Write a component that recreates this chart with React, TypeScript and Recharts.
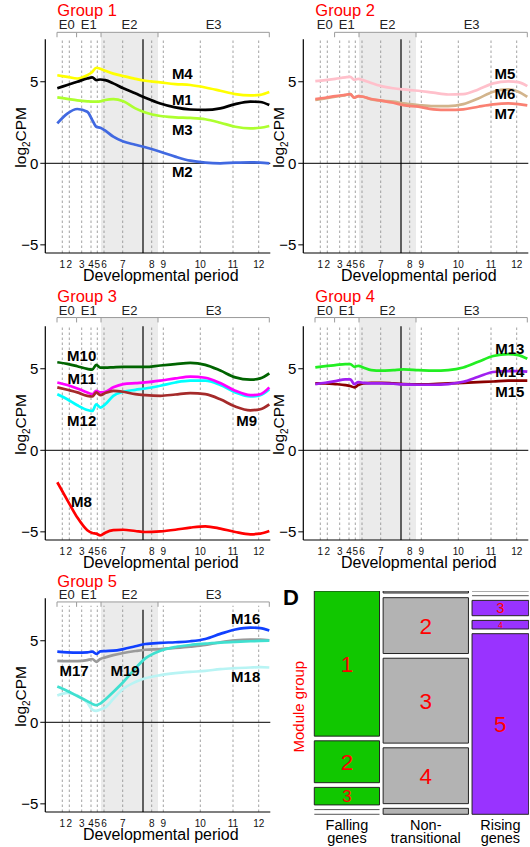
import React from "react";
import {
  LineChart,
  Line,
  XAxis,
  YAxis,
  ReferenceLine,
  ReferenceArea,
  ReferenceDot,
  ComposedChart,
  Scatter,
} from "recharts";

// positions on the (log-scaled) age axis where the module curves are sampled
const agePos = [12, 22, 32, 42, 47, 51, 55, 60, 68, 78, 90, 100, 115, 130, 145, 160, 175, 190, 205, 215, 224];

const periodPos = [17, 24, 36.4, 45.7, 52, 58.7, 77.4, 106.4, 118, 155, 187.7, 213.4];
const periodLabels = ["1", "2", "3", "4", "5", "6", "7", "8", "9", "10", "11", "12"];
const eraNames = ["E0", "E1", "E2", "E3"];
const eraBounds = [11.7, 31.3, 55.7, 112.7, 224];
const birthPos = 97.7;

// group 1
const m4 = [5.4, 5.3, 5.2, 5.4, 5.6, 5.86, 5.8, 5.67, 5.5, 5.35, 5.18, 5.06, 4.96, 4.86, 4.8, 4.65, 4.45, 4.24, 4.16, 4.2, 4.37];
const m1 = [4.6, 4.8, 5.0, 5.2, 5.27, 5.1, 5.14, 5.1, 4.9, 4.6, 4.29, 4.02, 3.67, 3.43, 3.3, 3.27, 3.37, 3.63, 3.78, 3.76, 3.57];
const m3 = [4.04, 3.95, 3.86, 3.8, 3.78, 3.78, 3.8, 3.88, 3.93, 3.8, 3.37, 3.12, 2.9, 2.82, 2.78, 2.7, 2.49, 2.24, 2.14, 2.18, 2.29];
const m2 = [2.45, 3.05, 3.33, 3.16, 2.65, 2.24, 2.18, 2.0, 1.63, 1.33, 1.14, 0.98, 0.71, 0.41, 0.16, 0.04, 0.0, 0.04, 0.06, 0.04, 0.0];
// group 2
const m5 = [5.04, 5.1, 5.18, 5.27, 5.3, 5.12, 5.18, 5.1, 4.92, 4.73, 4.6, 4.53, 4.45, 4.33, 4.22, 4.24, 4.53, 4.9, 5.02, 4.98, 4.73];
const m6 = [3.88, 3.98, 4.08, 4.18, 4.24, 4.02, 4.12, 4.08, 3.92, 3.84, 3.78, 3.67, 3.57, 3.5, 3.5, 3.63, 3.98, 4.39, 4.53, 4.39, 4.08];
const m7 = [3.94, 4.02, 4.12, 4.2, 4.24, 4.02, 4.12, 4.08, 3.94, 3.84, 3.71, 3.57, 3.47, 3.31, 3.27, 3.31, 3.47, 3.61, 3.67, 3.63, 3.55];
// group 3
const m10 = [5.4, 5.3, 5.15, 4.99, 4.95, 5.24, 5.07, 5.07, 5.09, 5.11, 5.11, 5.11, 5.2, 5.28, 5.36, 5.24, 4.89, 4.47, 4.33, 4.41, 4.72];
const m11 = [4.16, 4.0, 3.79, 3.55, 3.44, 3.65, 3.55, 3.59, 3.86, 4.06, 4.12, 4.16, 4.27, 4.41, 4.52, 4.45, 4.12, 3.65, 3.38, 3.44, 3.86];
const m12 = [3.44, 3.13, 2.76, 2.47, 2.41, 2.82, 2.62, 2.82, 3.34, 3.59, 3.71, 3.79, 3.96, 4.16, 4.27, 4.27, 4.0, 3.55, 3.3, 3.38, 3.75];
const m9 = [3.86, 3.71, 3.55, 3.34, 3.3, 3.55, 3.38, 3.51, 3.65, 3.59, 3.44, 3.38, 3.34, 3.42, 3.51, 3.44, 3.13, 2.68, 2.45, 2.52, 2.82];
const m8 = [-1.96, -3.05, -4.12, -4.9, -5.07, -5.11, -5.22, -5.05, -4.9, -4.87, -4.95, -5.01, -4.97, -4.87, -4.74, -4.66, -4.8, -5.01, -5.15, -5.11, -4.95];
// group 4
const m13 = [5.08, 5.16, 5.22, 5.29, 5.29, 5.12, 5.18, 5.08, 4.92, 4.88, 4.92, 4.96, 4.92, 4.88, 4.92, 5.08, 5.43, 5.78, 5.9, 5.84, 5.61];
const m14 = [4.06, 4.14, 4.24, 4.35, 4.35, 4.06, 4.18, 4.14, 4.1, 4.1, 4.08, 4.04, 4.02, 4.02, 4.06, 4.2, 4.51, 4.8, 4.86, 4.86, 4.82];
const m15 = [4.1, 4.1, 4.06, 4.0, 3.94, 3.86, 4.0, 4.1, 4.14, 4.14, 4.1, 4.06, 4.04, 4.06, 4.1, 4.14, 4.18, 4.22, 4.27, 4.27, 4.27];
// group 5
const m16 = [4.33, 4.29, 4.27, 4.29, 4.33, 4.19, 4.35, 4.37, 4.39, 4.49, 4.66, 4.8, 4.87, 4.91, 4.97, 5.11, 5.42, 5.69, 5.81, 5.77, 5.63];
const m17 = [3.77, 3.75, 3.75, 3.81, 3.88, 3.71, 3.88, 3.98, 4.12, 4.25, 4.37, 4.45, 4.49, 4.56, 4.64, 4.74, 4.91, 5.03, 5.07, 5.07, 5.03];
const m18 = [1.65, 1.81, 1.65, 1.2, 0.78, 0.7, 0.78, 0.92, 1.44, 2.06, 2.47, 2.7, 2.89, 3.01, 3.09, 3.15, 3.26, 3.32, 3.36, 3.38, 3.36];
const m19 = [2.19, 1.92, 1.61, 1.3, 1.13, 1.05, 1.15, 1.4, 1.86, 2.47, 3.3, 3.92, 4.39, 4.62, 4.74, 4.82, 4.89, 4.93, 4.97, 4.99, 5.01];

// mosaic (D): gene counts per module group (1..5) in each transition class
const moduleGroups = ["1", "2", "3", "4", "5"];
const classLabels = [["Falling", "genes"], ["Non-", "transitional"], ["Rising", "genes"]];
const fallingCounts = [447, 129, 54, 0, 0];
const nonTransCounts = [8, 225, 342, 225, 24];
const risingCounts = [0, 0, 41, 23, 483];

const FONT = "'Liberation Sans', Arial, Helvetica, sans-serif";
const Y_MIN = -5.5;
const Y_TOP = 9.4;
const AXIS_TOP = 7.6;

const groups = [
  {
    title: "Group 1",
    series: [
      { name: "M4", values: m4, color: "#ffff00" },
      { name: "M3", values: m3, color: "#adff2f" },
      { name: "M2", values: m2, color: "#4169e1" },
      { name: "M1", values: m1, color: "#000000" },
    ],
    labels: [["M4", 137, 5.47], ["M1", 137, 3.92], ["M3", 137, 2.06], ["M2", 137, -0.51]],
  },
  {
    title: "Group 2",
    series: [
      { name: "M5", values: m5, color: "#ffc0cb" },
      { name: "M6", values: m6, color: "#d2b48c" },
      { name: "M7", values: m7, color: "#fa8072" },
    ],
    labels: [["M5", 201.7, 5.51], ["M6", 201.7, 4.29], ["M7", 201.7, 3.04]],
  },
  {
    title: "Group 3",
    series: [
      { name: "M10", values: m10, color: "#006400" },
      { name: "M12", values: m12, color: "#00ffff" },
      { name: "M11", values: m11, color: "#ff00ff" },
      { name: "M9", values: m9, color: "#a52a2a" },
      { name: "M8", values: m8, color: "#ff0000" },
    ],
    labels: [["M10", 36.4, 5.81], ["M11", 36.4, 4.37], ["M12", 36.4, 1.79], ["M9", 201.4, 1.79], ["M8", 36.2, -3.15]],
  },
  {
    title: "Group 4",
    series: [
      { name: "M13", values: m13, color: "#22ee22" },
      { name: "M15", values: m15, color: "#8b0000" },
      { name: "M14", values: m14, color: "#a020f0" },
    ],
    labels: [["M13", 206.5, 6.24], ["M14", 206.5, 4.85], ["M15", 206.5, 3.59]],
  },
  {
    title: "Group 5",
    series: [
      { name: "M17", values: m17, color: "#9a9a9a" },
      { name: "M16", values: m16, color: "#1040ff" },
      { name: "M18", values: m18, color: "#b8f4f4" },
      { name: "M19", values: m19, color: "#40e0d0" },
    ],
    labels: [["M16", 200.4, 6.35], ["M17", 28.7, 3.17], ["M19", 79.7, 3.17], ["M18", 200.4, 2.8]],
  },
];

const boxes = [
  { left: 0, top: 9.7, bracket: 8.03, dashTop: 7.6, birthTop: 7.6, titleY: 16, firstEra: 0 },
  { left: 258, top: 9.7, bracket: 8.03, dashTop: 7.6, birthTop: 7.6, titleY: 16, firstEra: 1 },
  { left: 0, top: 297.2, bracket: 8.14, dashTop: 7.6, birthTop: 7.6, titleY: 301.5, firstEra: 0 },
  { left: 258, top: 297.2, bracket: 8.14, dashTop: 7.6, birthTop: 7.6, titleY: 301.5, firstEra: 0 },
  { left: 0, top: 569.4, bracket: 7.38, dashTop: 7.15, birthTop: 6.9, titleY: 586.7, firstEra: 0 },
];

const YLabel = (props: any) => {
  const vb = props.viewBox || { x: 5.3, y: 0, width: 40, height: 243 };
  const x = vb.x + 21.2;
  const y = vb.y + vb.height * 0.524;
  return (
    <text x={x} y={y} transform={`rotate(-90 ${x} ${y})`} textAnchor="middle" fontFamily={FONT} fontSize={15.5} fill="#000">
      <tspan>log</tspan>
      <tspan dy={4} fontSize={10}>2</tspan>
      <tspan dy={-4}>CPM</tspan>
    </text>
  );
};

const XLabel = (props: any) => {
  const vb = props.viewBox || { x: 45.3, y: 243, width: 225, height: 32 };
  return (
    <text x={vb.x + vb.width / 2 + 3} y={vb.y + 28} textAnchor="middle" fontFamily={FONT} fontSize={16} fill="#000">
      Developmental period
    </text>
  );
};

function GroupPanel({ group, box }: { group: any; box: any }) {
  const data = agePos.map((x, i) => {
    const row: any = { x };
    group.series.forEach((s: any) => (row[s.name] = s.values[i]));
    return row;
  });
  const eras = eraNames.map((name, i) => ({ name, from: eraBounds[i], to: eraBounds[i + 1] }));
  const tickLen = 0.3;
  return (
    <div style={{ position: "absolute", left: box.left, top: box.top }}>
      <LineChart width={272} height={275} data={data} margin={{ top: 0, right: 1.7, bottom: 0, left: 5.3 }}>
        <ReferenceArea
          x1={eraBounds[2]}
          x2={eraBounds[3]}
          y1={Y_MIN}
          y2={box.bracket}
          fill="#ebebeb"
          fillOpacity={1}
          stroke="none"
        />
        {periodPos.map((p) => (
          <ReferenceLine
            key={"d" + p}
            segment={[{ x: p, y: Y_MIN }, { x: p, y: box.dashTop }]}
            stroke="#8a8a8a"
            strokeWidth={0.8}
            strokeDasharray="2.5 2.5"
          />
        ))}
        <ReferenceLine y={0} stroke="#000" strokeWidth={1} />
        <ReferenceLine segment={[{ x: birthPos, y: Y_MIN }, { x: birthPos, y: box.birthTop }]} stroke="#000" strokeWidth={1.2} />
        <ReferenceLine segment={[{ x: 0, y: Y_MIN }, { x: 0, y: AXIS_TOP }]} stroke="#000" strokeWidth={1.2} />
        {eras.slice(box.firstEra).map((e) => (
          <ReferenceLine
            key={"b" + e.name}
            segment={[{ x: e.from, y: box.bracket }, { x: e.to, y: box.bracket }]}
            stroke="#9a9a9a"
            strokeWidth={1}
          />
        ))}
        {eraBounds.slice(box.firstEra).map((b) => (
          <ReferenceLine
            key={"t" + b}
            segment={[{ x: b, y: box.bracket }, { x: b, y: box.bracket - tickLen }]}
            stroke="#9a9a9a"
            strokeWidth={1}
          />
        ))}
        {eras.map((e) => (
          <ReferenceDot
            key={"e" + e.name}
            x={(e.from + e.to) / 2}
            y={box.bracket}
            r={0}
            fill="none"
            stroke="none"
            label={{ value: e.name, position: "top", offset: 3, fontSize: 13, fill: "#222", fontFamily: FONT }}
          />
        ))}
        <XAxis
          dataKey="x"
          type="number"
          domain={[0, 225]}
          ticks={periodPos}
          interval={0}
          tickFormatter={(v: number) => periodLabels[periodPos.indexOf(v)]}
          tickLine={false}
          axisLine={{ stroke: "#000", strokeWidth: 1.2 }}
          tick={{ fontSize: 10, fill: "#111", fontFamily: FONT }}
          height={32}
          label={{ content: XLabel }}
        />
        <YAxis
          type="number"
          domain={[Y_MIN, Y_TOP]}
          ticks={[-5, 0, 5]}
          interval={0}
          allowDataOverflow
          axisLine={false}
          tickLine={{ stroke: "#000" }}
          tickSize={5}
          tickMargin={2}
          tickFormatter={(v: number) => String(v).replace("-", "\u2212")}
          tick={{ fontSize: 15, fill: "#000", fontFamily: FONT }}
          width={40}
          label={{ content: YLabel }}
        />
        {group.series.map((s: any) => (
          <Line
            key={s.name}
            type="monotone"
            dataKey={s.name}
            stroke={s.color}
            strokeWidth={2.7}
            dot={false}
            activeDot={false}
            isAnimationActive={false}
          />
        ))}
        {group.labels.map((l: any) => (
          <ReferenceDot
            key={"l" + l[0]}
            x={l[1]}
            y={l[2]}
            r={0}
            fill="none"
            stroke="none"
            label={{ value: l[0], position: "center", fontSize: 15, fontWeight: 700, fill: "#000", fontFamily: FONT }}
          />
        ))}
      </LineChart>
    </div>
  );
}

const classColors = ["#11c700", "#b3b3b3", "#9933ff"];
const MOSAIC_H = 223.3;

function Mosaic() {
  const cols = [fallingCounts, nonTransCounts, risingCounts];
  const totals = cols.map((c) => c.reduce((a, b) => a + b, 0));
  const grand = totals.reduce((a, b) => a + b, 0);
  const gapX = 0.0168;
  const gapY = 0.021;
  let cx = 0;
  const cells: any[] = [];
  const centers: number[] = [];
  cols.forEach((counts, ci) => {
    const w = ((1 - gapX * (cols.length - 1)) * totals[ci]) / grand;
    let cy = 0;
    counts.forEach((n, gi) => {
      const h = ((1 - gapY * (counts.length - 1)) * n) / totals[ci];
      cells.push({ ci, gi, x1: cx, x2: Math.min(1, cx + w), y1: cy, y2: Math.min(1, cy + h), n });
      cy += h + gapY;
    });
    centers.push(cx + w / 2);
    cx += w + gapX;
  });

  const ClassTick = (props: any) => {
    const idx = centers.findIndex((c) => Math.abs(c - props.payload.value) < 1e-6);
    const lines = classLabels[idx] || [];
    return (
      <text x={props.x} y={props.y} textAnchor="middle" fontFamily={FONT} fontSize={14.5} fill="#000">
        <tspan x={props.x} dy={15.7}>{lines[0]}</tspan>
        <tspan x={props.x} dy={13.4}>{lines[1]}</tspan>
      </text>
    );
  };

  const GroupLabel = (props: any) => {
    const vb = props.viewBox || { x: 0, y: 0, width: 34.3, height: MOSAIC_H };
    const x = vb.x + 24.5;
    const y = vb.y + vb.height / 2 + 4;
    return (
      <text x={x} y={y} transform={`rotate(-90 ${x} ${y})`} textAnchor="middle" fontFamily={FONT} fontSize={15} fill="#ff0000">
        Module group
      </text>
    );
  };

  // column centres (mid height) feed an invisible scatter so both axes have data
  const anchor = centers.map((c) => ({ c, m: 0.5 }));

  return (
    <div style={{ position: "absolute", left: 280, top: 591 }}>
      <ComposedChart width={248.7} height={256} data={anchor} margin={{ top: 0, right: 0, bottom: 0, left: 0 }}>
        <XAxis
          dataKey="c"
          type="number"
          domain={[0, 1]}
          allowDataOverflow
          ticks={centers}
          interval={0}
          tick={ClassTick}
          tickLine={false}
          axisLine={false}
          tickSize={0}
          tickMargin={0}
          height={32.7}
        />
        <YAxis
          dataKey="m"
          type="number"
          domain={[0, 1]}
          allowDataOverflow
          reversed
          tick={false}
          axisLine={false}
          tickLine={false}
          width={34.3}
          label={{ content: GroupLabel }}
        />
        <Scatter dataKey="m" fill="none" stroke="none" isAnimationActive={false} shape={() => <g />} />
        {cells.map((c) => {
          const hPx = (c.y2 - c.y1) * MOSAIC_H;
          return c.n === 0 ? (
            <ReferenceLine
              key={`z${c.ci}-${c.gi}`}
              segment={[{ x: c.x1, y: c.y1 }, { x: c.x2, y: c.y1 }]}
              stroke="#555"
              strokeWidth={1}
              ifOverflow="visible"
            />
          ) : (
            <ReferenceArea
              key={`a${c.ci}-${c.gi}`}
              x1={c.x1}
              x2={c.x2}
              y1={c.y1}
              y2={c.y2}
              ifOverflow="visible"
              fill={classColors[c.ci]}
              fillOpacity={1}
              stroke="#222"
              strokeWidth={1}
              label={
                hPx > 7
                  ? {
                      value: moduleGroups[c.gi],
                      position: "center",
                      fill: "#ff0000",
                      fontFamily: FONT,
                      fontSize: Math.min(22.5, 1 + 0.9 * hPx),
                    }
                  : undefined
              }
            />
          );
        })}
      </ComposedChart>
    </div>
  );
}

export default function App() {
  return (
    <div style={{ position: "absolute", left: 0, top: 0, width: 530, height: 847, background: "#fff", fontFamily: FONT }}>
      {groups.map((g, i) => (
        <GroupPanel key={g.title} group={g} box={boxes[i]} />
      ))}
      <Mosaic />
      <svg width={530} height={847} style={{ position: "absolute", left: 0, top: 0, pointerEvents: "none" }}>
        {groups.map((g, i) => (
          <text key={g.title} x={boxes[i].left + 57.3} y={boxes[i].titleY} fontFamily={FONT} fontSize={16.5} fill="#ff0000">
            {g.title}
          </text>
        ))}
        <text x={283} y={605} fontFamily={FONT} fontSize={22} fontWeight={700} fill="#000">
          D
        </text>
      </svg>
    </div>
  );
}
